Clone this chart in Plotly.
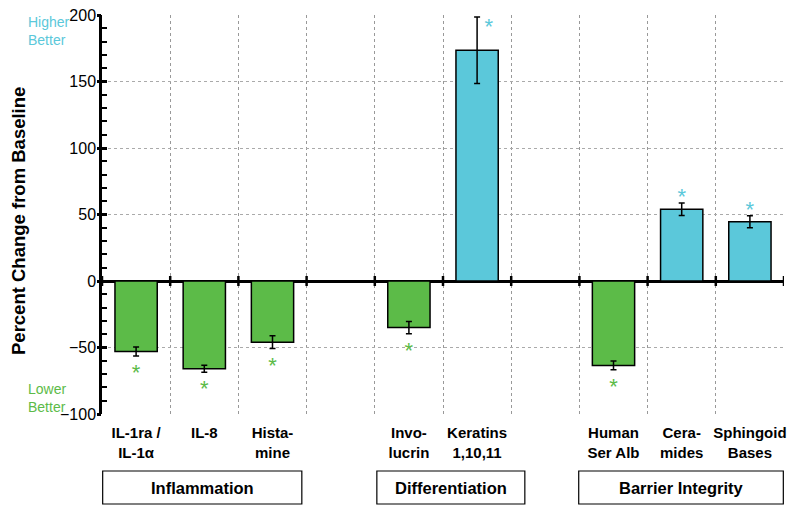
import plotly.graph_objects as go

# ---- data ----
labels = ["IL-1ra /<br>IL-1α", "IL-8", "Hista-<br>mine", "",
          "Invo-<br>lucrin", "Keratins<br>1,10,11", "",
          "Human<br>Ser Alb", "Cera-<br>mides", "Sphingoid<br>Bases"]
values = [-53, -66, -46, None, -35, 173.5, None, -63.5, 54, 44.5]
errors = [3.3, 2.7, 4.8, None, 4.6, 25, None, 3.3, 4.7, 4.5]
groups = ["Inflammation", "Differentiation", "Barrier Integrity"]
group_spans = [(-0.49, 2.43), (3.53, 5.7), (6.49, 9.49)]
y_title = "Percent Change from Baseline"

GREEN = "rgb(92,187,72)"
CYAN = "rgb(91,200,218)"

idx = [i for i, v in enumerate(values) if v is not None]
xs = idx
ys = [values[i] for i in idx]
es = [errors[i] for i in idx]
cols = [CYAN if v > 0 else GREEN for v in ys]

fig = go.Figure()
fig.add_trace(go.Bar(
    x=xs, y=ys, width=0.62,
    marker=dict(color=cols, line=dict(color="black", width=1.5)),
    error_y=dict(type="data", array=es, color="black", thickness=1.5, width=3),
    showlegend=False, hoverinfo="skip",
))

# significance stars
sx, sy, sc = [], [], []
for x, v, e, c in zip(xs, ys, es, cols):
    if v < 0:
        sx.append(x); sy.append(v - e - 14)
    elif v + e + 10 > 195:
        sx.append(x + 0.17); sy.append(v + e - 9)
    else:
        sx.append(x); sy.append(v + e + 3)
    sc.append(c)
fig.add_trace(go.Scatter(
    x=sx, y=sy, mode="text", text=["*"] * len(sx),
    textfont=dict(size=22, color=sc, family="Liberation Sans, Arial"),
    textposition="middle center", showlegend=False, hoverinfo="skip",
))

boundaries = [i + 0.5 for i in range(len(labels))]

W, H = 787, 507
L, R, T, B = 102, 3, 15, 93
pw, ph = W - L - R, H - T - B

shapes = []
# ticks crossing zero line at category boundaries
for b in [-0.5] + boundaries:
    shapes.append(dict(type="line", xref="x", yref="y", x0=b, x1=b,
                       ysizemode="pixel", yanchor=0, y0=-5, y1=5,
                       line=dict(color="black", width=2.5)))
# group boxes
for (a, b) in group_spans:
    shapes.append(dict(type="rect", xref="x", yref="paper", x0=a, x1=b,
                       y0=(414 - 504) / ph, y1=(414 - 471) / ph,
                       line=dict(color="black", width=1.2), fillcolor="white"))

annotations = []
for name, (a, b) in zip(groups, group_spans):
    annotations.append(dict(x=(a + b) / 2, y=(414 - 488) / ph, xref="x", yref="paper",
                            text="<b>" + name + "</b>", showarrow=False,
                            font=dict(size=16.5, color="black"),
                            xanchor="center", yanchor="middle"))
annotations.append(dict(x=(26 - L) / pw, y=(414 - 31) / ph, xref="paper", yref="paper",
                        text="Higher<br>Better", showarrow=False, align="left",
                        xanchor="left", yanchor="middle",
                        font=dict(size=14, color=CYAN)))
annotations.append(dict(x=(26 - L) / pw, y=(414 - 398) / ph, xref="paper", yref="paper",
                        text="Lower<br>Better", showarrow=False, align="left",
                        xanchor="left", yanchor="middle",
                        font=dict(size=14, color=GREEN)))
annotations.append(dict(x=(18 - L) / pw, y=(414 - 221) / ph, xref="paper", yref="paper",
                        text="<b>" + y_title + "</b>", showarrow=False, textangle=-90,
                        xanchor="center", yanchor="middle",
                        font=dict(size=18.5, color="black")))

fig.update_layout(
    width=W, height=H,
    margin=dict(l=L, r=R, t=T, b=B, autoexpand=False),
    paper_bgcolor="white", plot_bgcolor="white",
    font=dict(family="Liberation Sans, Arial", color="black"),
    shapes=shapes, annotations=annotations,
)
fig.update_xaxes(
    range=[-0.5, 9.5], tickmode="array", tickvals=list(range(len(labels))),
    ticktext=["<b>" + t + "</b>" if t else "" for t in labels],
    tickfont=dict(size=15), showgrid=False, zeroline=False, showline=False,
    ticks="outside", ticklen=5, tickcolor="rgba(0,0,0,0)", automargin=False,
    minor=dict(tickmode="array", tickvals=boundaries, showgrid=True,
               gridcolor="#999", griddash="dot", gridwidth=1, ticks=""),
)
fig.update_yaxes(
    range=[-100, 200], tickvals=[-100, -50, 0, 50, 100, 150, 200],
    tickfont=dict(size=16), ticks="inside", ticklen=5, tickwidth=2.5,
    tickcolor="black", showline=True, linecolor="black", linewidth=2.5,
    showgrid=True, gridcolor="#aaa", griddash="dot", gridwidth=1,
    zeroline=True, zerolinecolor="black", zerolinewidth=2.5, automargin=False,
    minor=dict(dtick=10, ticks="inside", ticklen=5, tickwidth=1.5,
               tickcolor="black", showgrid=False),
)
# overlay axis to draw outside part of major ticks
fig.update_layout(yaxis2=dict(overlaying="y", side="left", range=[-100, 200],
                              dtick=50, ticks="outside", ticklen=4, tickwidth=2.5,
                              tickcolor="black", showticklabels=False,
                              showgrid=False, zeroline=False, showline=False,
                              automargin=False))
fig.add_trace(go.Scatter(x=[None], y=[None], yaxis="y2", showlegend=False))

fig.write_html("out.html", config={"displayModeBar": False},
               post_script="document.body.style.margin='0';document.body.style.overflow='hidden';")
